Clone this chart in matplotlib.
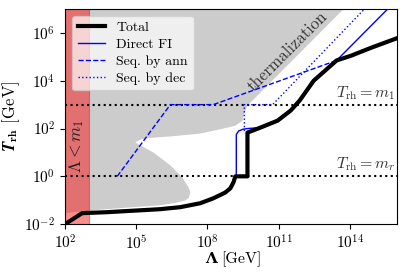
import numpy as np
import matplotlib.pyplot as plt

plt.rcParams['font.family'] = 'cmr10'
plt.rcParams['mathtext.fontset'] = 'cm'
plt.rcParams['axes.formatter.use_mathtext'] = True

# all values are log10 of Lambda [GeV] and T_rh [GeV]
m1 = 3.0
mr = 0.0

total_lx = [2.0, 2.72, 3.77, 6.0, 6.86, 7.7, 8.25, 8.75, 8.97, 9.1, 9.18, 9.69, 9.69,
            10.24, 10.96, 11.51, 11.89, 12.48, 13.45, 14.04, 14.89, 16.05]
total_ly = [-2.0, -1.54, -1.5, -1.375, -1.29, -1.125, -0.92, -0.68, -0.5, -0.25, 0.0, 0.0, 1.83,
            2.04, 2.33, 2.75, 3.17, 4.0, 4.85, 5.04, 5.375, 5.8]

direct_lx = [9.22, 9.22, 9.32, 9.5, 9.69, 10.24, 10.96, 11.51, 11.89, 12.48, 13.45, 15.6]
direct_ly = [0.0, 1.75, 1.9, 1.97, 2.0, 2.04, 2.33, 2.75, 3.17, 4.0, 4.85, 7.0]

ann_lx = [4.2, 6.44, 8.25, 13.45, 14.04, 14.89, 16.05]
ann_ly = [0.0, 3.0, 3.0, 4.85, 5.04, 5.375, 5.8]

dec_lx = [9.56, 9.56, 10.75, 14.62]
dec_ly = [1.9, 3.0, 3.0, 7.0]

# thermalization region outline
therm_lx = [2.0, 13.74, 9.69, 9.55, 9.48, 9.18, 8.68, 7.7, 6.44, 5.72, 5.2, 4.96,
            5.2, 5.72, 6.44, 6.94, 7.2, 7.28, 7.22, 7.05, 6.6, 6.01, 4.32, 3.18, 2.0]
therm_ly = [7.0, 7.0, 2.96, 2.62, 2.33, 2.12, 2.0, 1.79, 1.67, 1.62, 1.55, 1.42,
            1.28, 1.0, 0.46, -0.04, -0.46, -0.67, -0.9, -1.02, -1.12, -1.21, -1.33, -1.42, -1.54]

p = lambda v: 10.0 ** np.array(v)

fig = plt.figure(figsize=(4.04, 2.74), dpi=100)
ax = fig.add_axes([0.161, 0.182, 0.822, 0.785])

ax.fill(p(therm_lx), p(therm_ly), color='#cccccc', lw=0, zorder=1)
ax.axvspan(1e2, 10**m1, facecolor='red', alpha=0.45, edgecolor='red', lw=0.8, zorder=2)

ax.axhline(10**m1, color='k', ls=':', lw=1.5, zorder=3)
ax.axhline(10**mr, color='k', ls=':', lw=1.5, zorder=3)

ax.plot(p(total_lx), p(total_ly), color='k', lw=3, label='Total', zorder=5)
ax.plot(p(direct_lx), p(direct_ly), color='b', lw=1, label='Direct FI', zorder=4)
ax.plot(p(ann_lx), p(ann_ly), color='b', lw=1, ls='--', label='Seq. by ann', zorder=4)
ax.plot(p(dec_lx), p(dec_ly), color='b', lw=1, ls=':', label='Seq. by dec', zorder=4)

ax.text(10**2.5, 10**1.25, r'$\Lambda < m_1$', rotation=90, ha='center', va='center',
        fontsize=12.5, color='#222222', zorder=6)
ax.text(10**11.4, 10**5.25, 'thermalization', rotation=45, ha='center', va='center',
        fontsize=12, color='#333333', rotation_mode='anchor', zorder=6)
ax.text(10**15.95, 10**3.12, r'$T_{\rm rh} = m_1$', ha='right', va='bottom', fontsize=11.5,
        color='#333333', zorder=6)
ax.text(10**15.95, 10**0.12, r'$T_{\rm rh} = m_r$', ha='right', va='bottom', fontsize=11.5,
        color='#333333', zorder=6)

ax.set_xscale('log')
ax.set_yscale('log')
ax.set_xlim(1e2, 1e16)
ax.set_ylim(1e-2, 1e7)
ax.set_xticks([1e2, 1e5, 1e8, 1e11, 1e14])
ax.set_yticks([1e-2, 1e0, 1e2, 1e4, 1e6])
ax.minorticks_off()
ax.tick_params(labelsize=11)

# x label: bold Lambda + [GeV]
fig.text(0.538, 0.04, 'Λ', ha='right', va='baseline', fontsize=11,
         family='DejaVu Serif', weight='bold')
fig.text(0.548, 0.04, '[GeV]', ha='left', va='baseline', fontsize=11.5)
ax.set_ylabel(r'$\boldsymbol{T}_{\mathbf{rh}}$ [GeV]', fontsize=12, labelpad=2)

ax.legend(loc='upper left', fontsize=10, framealpha=0.7, labelspacing=0.3)

fig.savefig('out.png', dpi=100)
